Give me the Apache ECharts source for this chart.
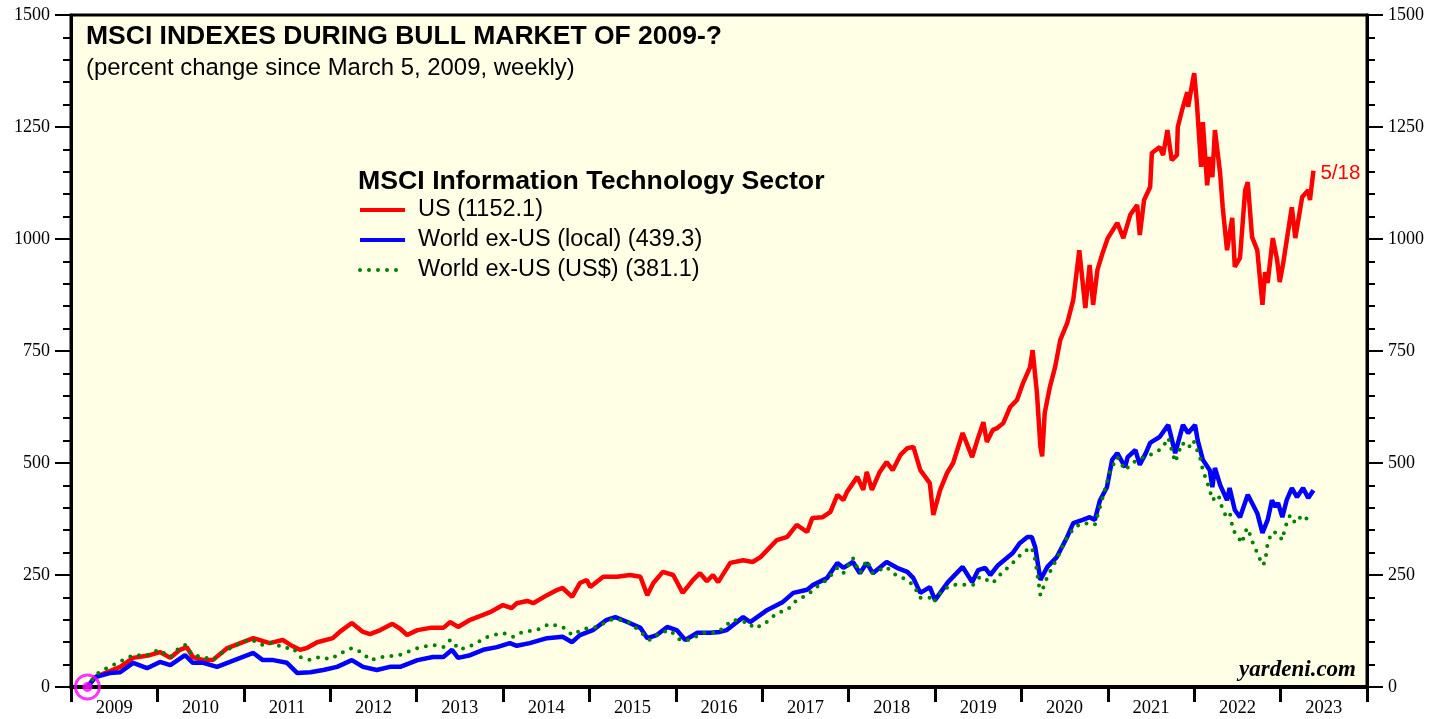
<!DOCTYPE html>
<html>
<head>
<meta charset="utf-8">
<script src="https://cdn.jsdelivr.net/npm/echarts@6/dist/echarts.min.js"></script>
<style>
  html, body { margin: 0; padding: 0; background: #fff; }
  #chart { width: 1448px; height: 719px; }
</style>
</head>
<body>
<div id="chart"></div>
<script>
// year labels along the bottom
var years = ['2009', '2010', '2011', '2012', '2013', '2014', '2015', '2016', '2017', '2018', '2019', '2020', '2021', '2022', '2023']

// [decimal year, percent change since 3/5/2009]
var usData = [
  [2009.19, 0], [2009.28, 22], [2009.57, 45], [2009.72, 65], [2009.91, 71], [2010.03, 78], [2010.15, 65], [2010.26, 83],
  [2010.34, 89], [2010.41, 67], [2010.53, 60], [2010.64, 60], [2010.81, 87], [2010.96, 98], [2011.11, 109], [2011.30, 98],
  [2011.45, 105], [2011.54, 94], [2011.65, 83], [2011.73, 87], [2011.85, 100], [2012.03, 109], [2012.11, 123], [2012.25, 143],
  [2012.38, 123], [2012.46, 118], [2012.58, 127], [2012.72, 141], [2012.81, 130], [2012.89, 116], [2013.01, 127], [2013.16, 132],
  [2013.31, 132], [2013.39, 145], [2013.48, 134], [2013.62, 150], [2013.77, 161], [2013.85, 167], [2014.00, 183], [2014.10, 176],
  [2014.16, 187], [2014.28, 192], [2014.35, 187], [2014.51, 205], [2014.63, 217], [2014.69, 221], [2014.80, 201], [2014.89, 232],
  [2014.97, 239], [2015.01, 223], [2015.16, 246], [2015.32, 246], [2015.47, 250], [2015.59, 246], [2015.67, 205], [2015.74, 232],
  [2015.85, 257], [2015.97, 250], [2016.08, 210], [2016.20, 239], [2016.28, 254], [2016.36, 236], [2016.43, 250], [2016.49, 234],
  [2016.63, 277], [2016.78, 283], [2016.89, 279], [2016.98, 290], [2017.17, 328], [2017.29, 335], [2017.40, 362], [2017.52, 346],
  [2017.58, 377], [2017.70, 379], [2017.79, 391], [2017.87, 429], [2017.94, 417], [2017.98, 435], [2018.10, 469], [2018.17, 440],
  [2018.21, 480], [2018.27, 440], [2018.36, 480], [2018.44, 502], [2018.51, 484], [2018.60, 518], [2018.68, 533], [2018.75, 536],
  [2018.83, 484], [2018.94, 455], [2018.98, 384], [2019.06, 440], [2019.14, 478], [2019.21, 500], [2019.32, 567], [2019.43, 513],
  [2019.49, 551], [2019.56, 591], [2019.60, 547], [2019.67, 574], [2019.72, 578], [2019.79, 589], [2019.87, 625], [2019.95, 641],
  [2020.02, 679], [2020.10, 714], [2020.13, 752], [2020.18, 656], [2020.22, 536], [2020.24, 515], [2020.27, 612], [2020.33, 670],
  [2020.39, 714], [2020.45, 775], [2020.53, 812], [2020.60, 864], [2020.67, 975], [2020.74, 846], [2020.79, 942], [2020.83, 853],
  [2020.88, 931], [2020.94, 969], [2021.00, 1002], [2021.11, 1036], [2021.18, 1002], [2021.26, 1054], [2021.34, 1076], [2021.37, 1009],
  [2021.42, 1087], [2021.49, 1116], [2021.51, 1192], [2021.60, 1205], [2021.64, 1187], [2021.69, 1243], [2021.74, 1176], [2021.80, 1187],
  [2021.81, 1250], [2021.86, 1288], [2021.92, 1328], [2021.93, 1295], [2021.98, 1350], [2022.00, 1370], [2022.03, 1306], [2022.08, 1161],
  [2022.10, 1261], [2022.15, 1120], [2022.18, 1183], [2022.21, 1138], [2022.24, 1243], [2022.30, 1147], [2022.33, 1071], [2022.38, 975],
  [2022.44, 1047], [2022.47, 938], [2022.53, 958], [2022.59, 1109], [2022.62, 1127], [2022.67, 1004], [2022.73, 975], [2022.79, 853],
  [2022.82, 926], [2022.85, 902], [2022.91, 1002], [2022.96, 953], [2022.99, 904], [2023.03, 946], [2023.13, 1071], [2023.17, 1002],
  [2023.20, 1036], [2023.25, 1094], [2023.32, 1109], [2023.34, 1087], [2023.38, 1152.1]
]

var localData = [
  [2009.19, 0], [2009.28, 22], [2009.45, 31], [2009.57, 33], [2009.72, 54], [2009.88, 42], [2010.03, 56], [2010.15, 49],
  [2010.32, 71], [2010.41, 54], [2010.53, 54], [2010.69, 45], [2010.81, 54], [2010.96, 65], [2011.11, 76], [2011.22, 60],
  [2011.34, 60], [2011.50, 54], [2011.62, 31], [2011.77, 33], [2011.92, 38], [2012.08, 45], [2012.25, 60], [2012.38, 45],
  [2012.54, 38], [2012.69, 45], [2012.81, 45], [2013.01, 60], [2013.19, 67], [2013.31, 67], [2013.41, 83], [2013.48, 65],
  [2013.62, 71], [2013.77, 83], [2013.93, 89], [2014.08, 98], [2014.16, 92], [2014.31, 98], [2014.51, 109], [2014.69, 112],
  [2014.80, 100], [2014.89, 116], [2015.04, 127], [2015.20, 150], [2015.30, 156], [2015.44, 145], [2015.59, 132], [2015.67, 109],
  [2015.78, 116], [2015.90, 134], [2016.01, 127], [2016.11, 105], [2016.25, 121], [2016.40, 121], [2016.51, 123], [2016.59, 127],
  [2016.78, 156], [2016.86, 145], [2017.06, 172], [2017.24, 190], [2017.36, 210], [2017.52, 217], [2017.59, 228], [2017.75, 243],
  [2017.87, 277], [2017.94, 266], [2018.05, 279], [2018.13, 254], [2018.21, 277], [2018.28, 254], [2018.44, 279], [2018.56, 266],
  [2018.68, 257], [2018.75, 243], [2018.83, 210], [2018.94, 223], [2019.00, 194], [2019.06, 210], [2019.15, 234], [2019.32, 268],
  [2019.43, 234], [2019.50, 261], [2019.58, 266], [2019.64, 250], [2019.73, 272], [2019.90, 299], [2019.98, 321], [2020.07, 335],
  [2020.12, 335], [2020.16, 312], [2020.22, 239], [2020.30, 268], [2020.41, 290], [2020.53, 335], [2020.60, 366], [2020.71, 373],
  [2020.79, 379], [2020.85, 373], [2020.91, 417], [2020.99, 446], [2021.05, 507], [2021.11, 522], [2021.20, 491], [2021.23, 513],
  [2021.32, 529], [2021.37, 496], [2021.44, 522], [2021.49, 545], [2021.54, 551], [2021.60, 558], [2021.70, 585], [2021.78, 522],
  [2021.87, 585], [2021.93, 567], [2022.01, 585], [2022.04, 551], [2022.10, 507], [2022.18, 484], [2022.21, 446], [2022.24, 489],
  [2022.30, 451], [2022.38, 417], [2022.41, 444], [2022.47, 395], [2022.53, 379], [2022.62, 429], [2022.73, 388], [2022.79, 344],
  [2022.85, 373], [2022.90, 417], [2022.94, 402], [2022.97, 411], [2023.02, 379], [2023.07, 417], [2023.13, 444], [2023.19, 424],
  [2023.26, 444], [2023.32, 422], [2023.38, 439.3]
]

var usdData = [
  [2009.19, 0], [2009.28, 27], [2009.37, 38], [2009.45, 45], [2009.60, 60], [2009.72, 71], [2009.88, 71], [2010.01, 83],
  [2010.15, 67], [2010.26, 89], [2010.32, 94], [2010.41, 71], [2010.53, 67], [2010.64, 60], [2010.76, 78], [2010.92, 94],
  [2011.07, 107], [2011.21, 94], [2011.34, 100], [2011.45, 87], [2011.57, 87], [2011.65, 67], [2011.77, 60], [2011.88, 67],
  [2012.00, 62], [2012.15, 78], [2012.25, 87], [2012.38, 76], [2012.46, 60], [2012.61, 67], [2012.81, 72], [2013.01, 87],
  [2013.19, 94], [2013.31, 89], [2013.39, 105], [2013.50, 83], [2013.65, 94], [2013.82, 112], [2014.00, 121], [2014.12, 112],
  [2014.23, 123], [2014.39, 127], [2014.54, 141], [2014.69, 134], [2014.80, 116], [2014.93, 130], [2015.09, 134], [2015.24, 150],
  [2015.35, 150], [2015.47, 143], [2015.59, 123], [2015.70, 105], [2015.82, 121], [2015.93, 127], [2016.05, 105], [2016.16, 105],
  [2016.32, 121], [2016.48, 121], [2016.66, 150], [2016.86, 143], [2016.89, 132], [2017.01, 138], [2017.17, 165], [2017.29, 172],
  [2017.40, 194], [2017.52, 205], [2017.63, 223], [2017.75, 239], [2017.87, 266], [2017.94, 254], [2018.05, 288], [2018.13, 254],
  [2018.21, 283], [2018.28, 254], [2018.44, 268], [2018.51, 254], [2018.63, 243], [2018.75, 228], [2018.83, 199], [2018.94, 199],
  [2018.98, 188], [2019.09, 217], [2019.21, 228], [2019.37, 228], [2019.44, 228], [2019.52, 246], [2019.60, 239], [2019.67, 232],
  [2019.75, 250], [2019.90, 277], [2020.02, 301], [2020.12, 312], [2020.16, 283], [2020.22, 205], [2020.30, 246], [2020.42, 290],
  [2020.53, 335], [2020.62, 357], [2020.71, 366], [2020.85, 362], [2020.91, 402], [2021.03, 484], [2021.11, 513], [2021.20, 484],
  [2021.28, 500], [2021.41, 513], [2021.54, 522], [2021.63, 533], [2021.70, 556], [2021.78, 502], [2021.86, 545], [2021.93, 533],
  [2021.99, 551], [2022.07, 510], [2022.10, 484], [2022.18, 440], [2022.21, 417], [2022.28, 429], [2022.32, 402], [2022.36, 384],
  [2022.41, 391], [2022.45, 350], [2022.51, 335], [2022.55, 321], [2022.61, 355], [2022.65, 339], [2022.68, 321], [2022.74, 295],
  [2022.79, 272], [2022.82, 279], [2022.85, 321], [2022.90, 346], [2022.96, 344], [2023.02, 328], [2023.05, 355], [2023.11, 384],
  [2023.17, 366], [2023.25, 384], [2023.32, 373], [2023.38, 381.1]
]

var startPoint = [[2009.19, 0]]

var chart = echarts.init(document.getElementById('chart'))

var serif = '"Liberation Serif", "Times New Roman", serif'
var sans = '"Liberation Sans", Arial, sans-serif'

var yAxisBase = {
  type: 'value',
  min: 0,
  max: 1500,
  interval: 250,
  splitLine: { show: false },
  axisLine: { show: true, lineStyle: { color: '#000', width: 3 } },
  axisTick: { show: true, length: 16, lineStyle: { color: '#000', width: 2 } },
  minorTick: { show: true, splitNumber: 5, length: 8, lineStyle: { color: '#000', width: 2 } },
  axisLabel: { color: '#000', fontSize: 18, fontFamily: serif, margin: 21, formatter: function (v) { return String(v) } }
}

var option = {
  backgroundColor: '#fff',
  animation: false,
  title: [
    {
      text: 'MSCI INDEXES DURING BULL MARKET OF 2009-?',
      left: 86, top: 23, padding: 0,
      textStyle: { fontSize: 26.5, fontWeight: 'bold', color: '#000', fontFamily: sans }
    },
    {
      text: '(percent change since March 5, 2009, weekly)',
      left: 86, top: 56, padding: 0,
      textStyle: { fontSize: 23.9, fontWeight: 'normal', color: '#000', fontFamily: sans }
    },
    {
      text: 'MSCI Information Technology Sector',
      left: 358, top: 168, padding: 0,
      textStyle: { fontSize: 26.7, fontWeight: 'bold', color: '#000', fontFamily: sans }
    },
    {
      text: 'yardeni.com',
      right: 92, top: 659, padding: 0,
      textStyle: { fontSize: 23, fontWeight: 'bold', fontStyle: 'italic', color: '#000', fontFamily: serif }
    }
  ],
  legend: {
    orient: 'vertical',
    left: 358,
    top: 198,
    padding: 0,
    itemWidth: 45,
    itemHeight: 14,
    itemGap: 6,
    itemStyle: { opacity: 0 },
    lineStyle: { width: 4 },
    data: ['US (1152.1)', 'World ex-US (local) (439.3)', 'World ex-US (US$) (381.1)'],
    textStyle: { fontSize: 23.5, color: '#000', fontFamily: sans, padding: [0, 0, 0, 8] }
  },
  grid: {
    left: 71, right: 81, top: 15, bottom: 32,
    show: true,
    backgroundColor: '#ffffe6',
    borderColor: '#000',
    borderWidth: 3
  },
  xAxis: [
    {
      type: 'value',
      min: 2009,
      max: 2024,
      position: 'top',
      show: false
    },
    {
      type: 'category',
      data: years,
      position: 'bottom',
      boundaryGap: true,
      axisLine: { show: true, lineStyle: { color: '#000', width: 4 } },
      axisTick: { show: true, length: 15, interval: 0, lineStyle: { color: '#000', width: 3 } },
      axisLabel: { color: '#000', fontSize: 18.5, fontFamily: serif, margin: 12, interval: 0 }
    }
  ],
  yAxis: [
    Object.assign({}, yAxisBase, { position: 'left' }),
    Object.assign({}, yAxisBase, { position: 'right' })
  ],
  series: [
    {
      name: 'US (1152.1)',
      type: 'line',
      xAxisIndex: 0,
      yAxisIndex: 0,
      data: usData,
      symbol: 'none',
      color: '#ff0000',
      lineStyle: { color: '#ff0000', width: 4.5 },
      endLabel: {
        show: true,
        formatter: '5/18',
        color: '#ff0000',
        fontSize: 20.5,
        fontFamily: sans,
        distance: 7,
        offset: [0, 2]
      },
      z: 3
    },
    {
      name: 'World ex-US (local) (439.3)',
      type: 'line',
      xAxisIndex: 0,
      yAxisIndex: 0,
      data: localData,
      symbol: 'none',
      color: '#0000ff',
      lineStyle: { color: '#0000ff', width: 4.5 },
      z: 4
    },
    {
      name: 'World ex-US (US$) (381.1)',
      type: 'line',
      xAxisIndex: 0,
      yAxisIndex: 0,
      data: usdData,
      symbol: 'none',
      color: '#008000',
      lineStyle: { color: '#008000', width: 4, type: [0, 9], cap: 'round' },
      z: 5
    },
    {
      type: 'scatter',
      xAxisIndex: 0,
      yAxisIndex: 0,
      data: startPoint,
      symbol: 'circle',
      symbolSize: 24,
      clip: false,
      silent: true,
      itemStyle: { color: 'rgba(0,0,0,0)', borderColor: '#ff00ff', borderWidth: 3 },
      z: 10
    },
    {
      type: 'scatter',
      xAxisIndex: 0,
      yAxisIndex: 0,
      data: startPoint,
      symbol: 'circle',
      symbolSize: 10,
      clip: false,
      silent: true,
      itemStyle: { color: '#ff00ff' },
      z: 10
    }
  ]
}

chart.setOption(option)
</script>
</body>
</html>
